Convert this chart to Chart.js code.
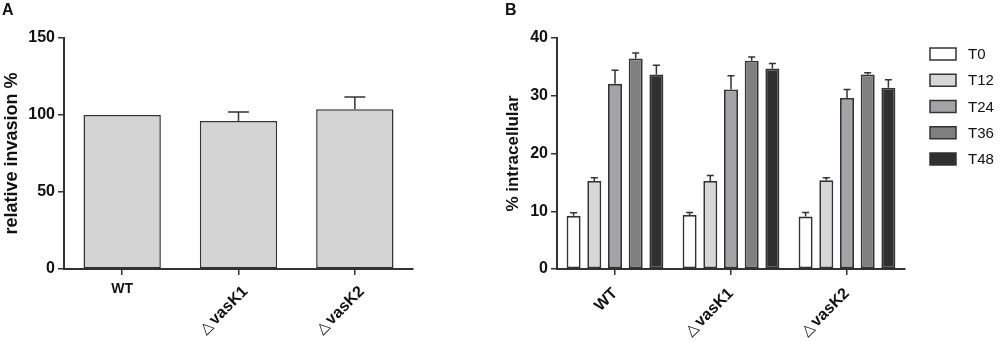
<!DOCTYPE html>
<html>
<head>
<meta charset="utf-8">
<script src="https://cdn.jsdelivr.net/npm/chart.js@4/dist/chart.umd.min.js"></script>
<style>
  html, body { margin:0; padding:0; background:#fff; }
  #wrap { position:relative; width:1000px; height:342px; }
  .pane { position:absolute; top:0; height:342px; }
  #paneA { left:0; width:480px; }
  #paneB { left:480px; width:520px; }
</style>
</head>
<body>
<div id="wrap">
  <div class="pane" id="paneA"><canvas id="chartA"></canvas></div>
  <div class="pane" id="paneB"><canvas id="chartB"></canvas></div>
</div>
<script>
/* ===== data ===== */
const groups = ['WT', 'vasK1', 'vasK2'];
const deltaMark = [false, true, true];   // mutant strains get the delta sign

// panel A: relative invasion (%), mean and SEM
const invasion = [100, 96.1, 103.7];
const invasionErr = [0, 5.9, 8.0];
const ticksA = [0, 50, 100, 150];

// panel B: % intracellular per time point
const timePoints = ['T0', 'T12', 'T24', 'T36', 'T48'];
const t0 = [9.2, 9.35, 9.07];
const t12 = [15.25, 15.25, 15.37];
const t24 = [32.06, 31.1, 29.6];
const t36 = [36.45, 36.05, 33.7];
const t48 = [33.7, 34.7, 31.4];
const t0Err = [0.55, 0.45, 0.7];
const t12Err = [0.55, 0.95, 0.45];
const t24Err = [2.35, 2.35, 1.5];
const t36Err = [0.95, 0.65, 0.3];
const t48Err = [1.6, 0.9, 1.35];
const ticksB = [0, 10, 20, 30, 40];

/* ===== styles ===== */
const FONT = '"Liberation Sans", Arial, Helvetica, sans-serif';
const INK = '#333333';
const shadesB = ['#ffffff', '#d7d7d7', '#a4a4a7', '#808080', '#303030'];

/* error bars: only the upper whisker shows, drawn from the bar top */
const errorBars = {
  id: 'errorBars',
  afterDatasetsDraw(chart, args, opts){
    const ctx = chart.ctx;
    const y = chart.scales.y;
    ctx.save();
    ctx.strokeStyle = INK;
    ctx.lineWidth = 1.5;
    chart.data.datasets.forEach((ds, i)=>{
      const meta = chart.getDatasetMeta(i);
      meta.data.forEach((bar, j)=>{
        const e = ds.err ? ds.err[j] : 0;
        if(!e) return;
        const top = y.getPixelForValue(ds.data[j] + e);
        const half = bar.width * opts.cap / 2;
        ctx.beginPath();
        ctx.moveTo(bar.x, bar.y);
        ctx.lineTo(bar.x, top);
        ctx.moveTo(bar.x - half, top);
        ctx.lineTo(bar.x + half, top);
        ctx.stroke();
      });
    });
    ctx.restore();
  }
};

/* category labels, panel letter and (for B) legend */
const decor = {
  id: 'decor',
  afterDraw(chart, args, opts){
    const ctx = chart.ctx;
    const x = chart.scales.x;
    const base = chart.chartArea.bottom;
    ctx.save();
    ctx.fillStyle = '#111';

    // panel letter
    ctx.font = 'bold 16px ' + FONT;
    ctx.textAlign = 'left';
    ctx.textBaseline = 'middle';
    ctx.fillText(opts.letter, opts.letterX, 11);

    // category labels
    groups.forEach((g, i)=>{
      const px = x.getPixelForTick(i);
      const rotated = opts.rotateAll || deltaMark[i];
      ctx.save();
      if(!rotated){
        ctx.font = 'bold 14px ' + FONT;
        ctx.textAlign = 'center';
        ctx.textBaseline = 'top';
        ctx.fillText(g, px, base + 13);
      } else {
        ctx.translate(px + opts.labelDx, base + opts.labelDy);
        ctx.rotate(-Math.PI / 4);
        ctx.font = 'bold 16px ' + FONT;
        ctx.textAlign = 'right';
        ctx.textBaseline = 'middle';
        ctx.fillText(g, 0, 0);
        if(deltaMark[i]){
          const w = ctx.measureText(g).width;
          ctx.font = '15px "DejaVu Sans", sans-serif';
          ctx.fillText('\u25B3', -w - 2, 0);
        }
      }
      ctx.restore();
    });

    // legend
    if(opts.legend){
      const L = opts.legend;
      chart.data.datasets.forEach((ds, i)=>{
        const cy = L.y + i * L.step;
        ctx.fillStyle = ds.backgroundColor;
        ctx.fillRect(L.x, cy - 6, 26, 12);
        ctx.strokeStyle = INK;
        ctx.lineWidth = 1.5;
        ctx.strokeRect(L.x, cy - 6, 26, 12);
        ctx.fillStyle = '#111';
        ctx.font = '15px ' + FONT;
        ctx.textAlign = 'left';
        ctx.textBaseline = 'middle';
        ctx.fillText(ds.label, L.x + 38, cy + 1);
      });
    }
    ctx.restore();
  }
};

function axes(yTicks, yTitle, yWidth, titlePad){
  return {
    x: {
      offset: true,
      grid: { display:true, drawOnChartArea:false, drawTicks:true, tickLength:6, color:INK, lineWidth:1.5, offset:false },
      border: { display:true, color:INK, width:2 },
      ticks: { display:false },
      afterFit(s){ s.height = 73; }
    },
    y: {
      min: yTicks[0],
      max: yTicks[yTicks.length - 1],
      afterBuildTicks(s){ s.ticks = yTicks.map(v=>({ value:v })); },
      grid: { display:true, drawOnChartArea:false, drawTicks:true, tickLength:6, color:INK, lineWidth:1.5 },
      border: { display:true, color:INK, width:2 },
      ticks: { color:'#111', padding:3, font:{ family:FONT, size:16, weight:'bold' } },
      title: { display:true, text:yTitle, color:'#111', padding:{ top:titlePad, bottom:0 },
               font:{ family:FONT, size:yTitle.length > 16 ? 18 : 17, weight:'bold' } },
      afterFit(s){ s.width = yWidth; }
    }
  };
}

/* ===== panel A ===== */
new Chart(document.getElementById('chartA'), {
  type: 'bar',
  data: {
    labels: groups,
    datasets: [{
      label: 'relative invasion',
      data: invasion,
      err: invasionErr,
      backgroundColor: '#d4d4d4',
      borderColor: INK,
      borderWidth: 1.5,
      borderSkipped: false,
      categoryPercentage: 1,
      barPercentage: 0.665
    }]
  },
  options: {
    responsive: true,
    maintainAspectRatio: false,
    animation: false,
    layout: { padding: { left:0, right:67, top:38, bottom:0 } },
    scales: axes(ticksA, 'relative invasion %', 64, 1),
    plugins: {
      legend: { display:false },
      tooltip: { enabled:false },
      errorBars: { cap: 0.27 },
      decor: { letter:'A', letterX:2, rotateAll:false, labelDx:7, labelDy:20 }
    }
  },
  plugins: [errorBars, decor]
});

/* ===== panel B ===== */
const seriesB = [t0, t12, t24, t36, t48];
const errB = [t0Err, t12Err, t24Err, t36Err, t48Err];

new Chart(document.getElementById('chartB'), {
  type: 'bar',
  data: {
    labels: groups,
    datasets: timePoints.map((t, i)=>({
      label: t,
      data: seriesB[i],
      err: errB[i],
      backgroundColor: shadesB[i],
      borderColor: INK,
      borderWidth: 1.8,
      borderSkipped: false,
      categoryPercentage: 0.892,
      barPercentage: 0.676
    }))
  },
  options: {
    responsive: true,
    maintainAspectRatio: false,
    animation: false,
    layout: { padding: { left:20, right:95, top:38, bottom:0 } },
    scales: axes(ticksB, '% intracellular', 57, 3),
    plugins: {
      legend: { display:false },
      tooltip: { enabled:false },
      errorBars: { cap: 0.5 },
      decor: { letter:'B', letterX:25, rotateAll:true, labelDx:0, labelDy:22,
               legend:{ x:450, y:54, step:26.25 } }
    }
  },
  plugins: [errorBars, decor]
});
</script>
</body>
</html>
